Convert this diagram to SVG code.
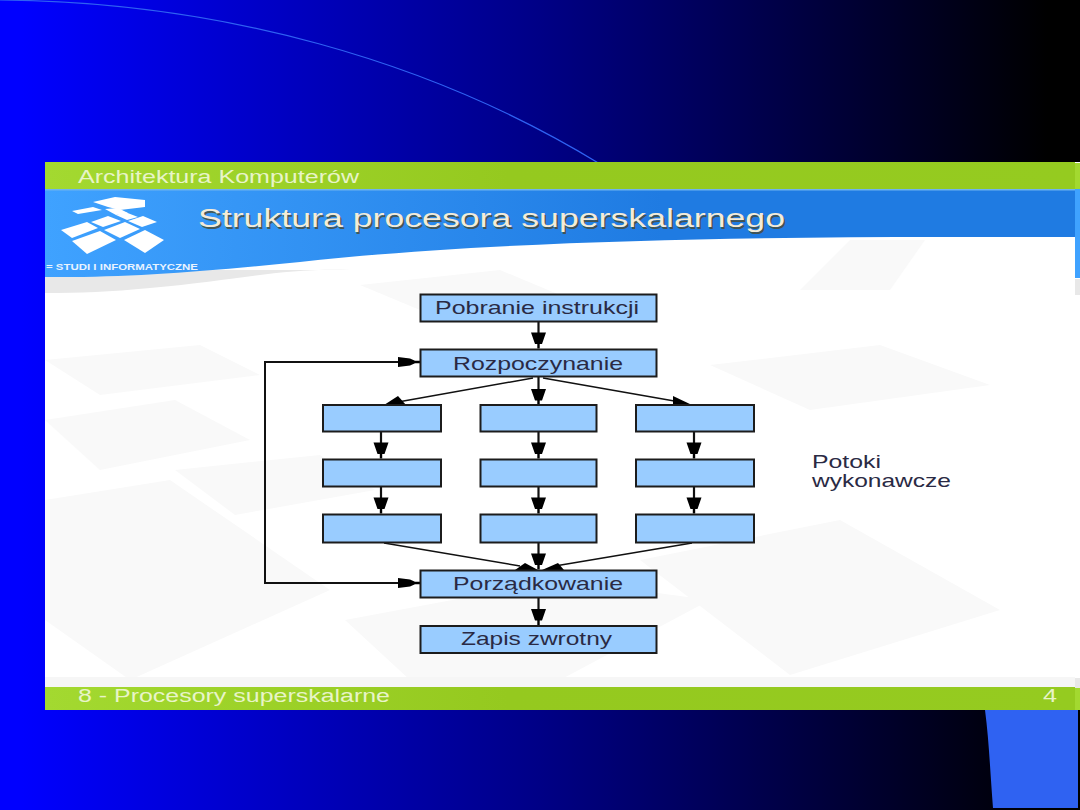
<svg xmlns="http://www.w3.org/2000/svg" width="1080" height="810" viewBox="0 0 1080 810">
<style>
text{font-family:"Liberation Sans",Arial,sans-serif}
.box{fill:#99ccff;stroke:#1c1c1c;stroke-width:2}
.lbl{font-size:18.500px;fill:#2a2a44}
.cap{font-size:18px;fill:#e8f4c8}
.link{fill:none;stroke:#111;stroke-width:2.200}
.loop{fill:none;stroke:#111;stroke-width:2}
.thin{fill:none;stroke:#111;stroke-width:1.500}
.head{fill:#000}
.wm{fill:#f9f9f9}
.logo{fill:#fff}
</style>
<defs>
<linearGradient id="sky" x1="0" x2="1" y1="0" y2="0">
<stop offset="0.02" stop-color="#0000ff"/><stop offset="0.5" stop-color="#000086"/><stop offset="0.97" stop-color="#000000"/>
</linearGradient>
<linearGradient id="lime" x1="0" x2="1" y1="0" y2="0"><stop offset="0" stop-color="#a3d930"/><stop offset="0.45" stop-color="#95c91f"/><stop offset="1" stop-color="#95cb20"/></linearGradient>
<linearGradient id="band" x1="0" x2="1" y1="0" y2="0"><stop offset="0" stop-color="#3fa2ff"/><stop offset="0.6" stop-color="#1f7be2"/><stop offset="1" stop-color="#1f7be2"/></linearGradient>
<path id="down" class="head" d="M-7.500 0H7.500L3.500 11.500H1.200V16H-1.200V11.500H-3.500Z"/>
<path id="right" class="head" d="M0 -5L12 -3.500L17 -1.200H22V1.200H17L12 3.500L0 5Z"/>
</defs>

<!-- backdrop -->
<rect width="1080" height="810" fill="url(#sky)"/>
<path d="M0 0C220 2 430 60 600 164" fill="none" stroke="#2f62f2" stroke-width="1.200"/>
<path d="M985 710H1078V808H993C990 770 989 740 985 710Z" fill="#2f62f2"/>

<!-- slide -->
<rect x="45" y="162" width="1035" height="548" fill="#fff"/>
<g class="wm">
<path d="M45 360L200 345L260 375L100 395Z"/><path d="M45 420L175 400L250 440L100 470Z"/>
<path d="M175 470L320 455L375 490L235 515Z"/><path d="M45 500L170 480L330 590L130 680L45 620Z"/>
<path d="M360 285L500 270L560 295L420 310Z"/><path d="M710 365L880 345L990 385L810 410Z"/>
<path d="M640 560L840 520L1000 610L790 675Z"/><path d="M850 240L925 240L890 290L800 290Z"/>
<path d="M345 620L560 580L710 600L560 680L410 680Z"/>
</g>
<path d="M45 270H350C280 268 240 280 150 288C110 292 80 293 45 293Z" fill="#e8e8e8"/>
<path d="M45 190H1075V237H940C700 237 470 243 300 262C200 272 120 278 45 277Z" fill="url(#band)"/>
<rect x="45" y="162" width="1030" height="27" fill="url(#lime)"/>
<rect x="45" y="189" width="1030" height="1.500" fill="#6fb4f0"/>
<rect x="45" y="677" width="1030" height="10" fill="#f6f6f6"/>
<rect x="45" y="687" width="1030" height="23" fill="url(#lime)"/>
<rect x="1075" y="163" width="5" height="26" fill="#a3d930"/>
<rect x="1075" y="189" width="5" height="89" fill="#3fa2ff"/>
<rect x="1075" y="279" width="5" height="16" fill="#e8e8e8"/>
<rect x="1075" y="678" width="5" height="10" fill="#e8e8e8"/>
<rect x="1075" y="688" width="5" height="22" fill="#a3d930"/>

<g id="logo" class="logo">
<path d="M72 241L100 231L116 240L87 254Z"/><path d="M124 240L145 230L164 240L145 253Z"/>
<path d="M61 230L87 222L98 228L72 238Z"/><path d="M104 230L125 222L140 229L120 238Z"/>
<path d="M91 222L108 216L121 221L103 227Z"/><path d="M128 221L143 216L157 222L142 227Z"/>
<path d="M116 215L125 212L138 217L127 220Z"/><path d="M72 211L93 207L102 210L78 214Z"/>
<path d="M93 202L115 197L145 200L145 207L120 210L108 207Z"/><path d="M105 209L118 208L128 213L116 215Z"/>
</g>
<text x="46" y="270" font-size="9" font-weight="bold" fill="#e8f3ff" textLength="152" lengthAdjust="spacingAndGlyphs">= STUDI I INFORMATYCZNE</text>

<text class="cap" x="78" y="183" textLength="281" lengthAdjust="spacingAndGlyphs">Architektura Komputerów</text>
<text x="199.500" y="228.500" font-size="26" fill="#4a4a30" opacity=".8" textLength="587" lengthAdjust="spacingAndGlyphs">Struktura procesora superskalarnego</text>
<text x="198" y="227" font-size="26" fill="#f4ecd8" textLength="587" lengthAdjust="spacingAndGlyphs">Struktura procesora superskalarnego</text>
<text class="cap" x="78" y="702" textLength="312" lengthAdjust="spacingAndGlyphs">8 - Procesory superskalarne</text>
<text class="cap" x="1043" y="702" textLength="14" lengthAdjust="spacingAndGlyphs">4</text>

<!-- flow connectors -->
<g id="connectors">
<path class="loop" d="M400 362H265V583H400"/>
<use href="#right" x="398" y="362"/>
<use href="#right" x="398" y="583"/>

<path class="thin" d="M533 378L398 402"/>
<path class="head" d="M384 405L398 396L406 405Z"/>
<path class="thin" d="M543 378L680 402"/>
<path class="head" d="M692 405L673 396L673 405Z"/>
<path class="thin" d="M384 543L520 566"/>
<path class="head" d="M515 570L525 563L538 570Z"/>
<path class="thin" d="M692 543L555 566"/>
<path class="head" d="M542 570L558 563L564 570Z"/>

<path class="link" d="M538.500 322V334"/><use href="#down" x="538.500" y="332.500"/>
<path class="link" d="M538.500 377V391"/><use href="#down" x="538.500" y="389"/>
<path class="link" d="M381 432V444"/><use href="#down" x="381" y="442.500"/>
<path class="link" d="M538.500 432V444"/><use href="#down" x="538.500" y="442.500"/>
<path class="link" d="M694 432V444"/><use href="#down" x="694" y="442.500"/>
<path class="link" d="M381 487V499"/><use href="#down" x="381" y="497.500"/>
<path class="link" d="M538.500 487V499"/><use href="#down" x="538.500" y="497.500"/>
<path class="link" d="M694 487V499"/><use href="#down" x="694" y="497.500"/>
<path class="link" d="M538.500 543V555"/><use href="#down" x="538.500" y="553.500"/>
<path class="link" d="M538.500 598V610"/><use href="#down" x="538.500" y="609"/>
</g>

<g id="fetch"><rect class="box" x="420.500" y="294.500" width="236" height="27"/><text class="lbl" x="435" y="314" textLength="204" lengthAdjust="spacingAndGlyphs">Pobranie instrukcji</text></g>
<g id="dispatch"><rect class="box" x="420.500" y="349.500" width="236" height="27"/><text class="lbl" x="453" y="369.500" textLength="170" lengthAdjust="spacingAndGlyphs">Rozpoczynanie</text></g>
<g id="p1a"><rect class="box" x="323" y="405" width="118" height="26.500"/></g>
<g id="p2a"><rect class="box" x="480.500" y="405" width="116" height="26.500"/></g>
<g id="p3a"><rect class="box" x="636" y="405" width="118" height="26.500"/></g>
<g id="p1b"><rect class="box" x="323" y="459.500" width="118" height="27"/></g>
<g id="p2b"><rect class="box" x="480.500" y="459.500" width="116" height="27"/></g>
<g id="p3b"><rect class="box" x="636" y="459.500" width="118" height="27"/></g>
<g id="p1c"><rect class="box" x="323" y="514.500" width="118" height="28"/></g>
<g id="p2c"><rect class="box" x="480.500" y="514.500" width="116" height="28"/></g>
<g id="p3c"><rect class="box" x="636" y="514.500" width="118" height="28"/></g>
<g id="reorder"><rect class="box" x="420.500" y="570.500" width="236" height="27"/><text class="lbl" x="453" y="589.500" textLength="170" lengthAdjust="spacingAndGlyphs">Porządkowanie</text></g>
<g id="writeback"><rect class="box" x="420.500" y="626" width="236" height="27"/><text class="lbl" x="461" y="645" textLength="151" lengthAdjust="spacingAndGlyphs">Zapis zwrotny</text></g>

<g id="pipelines-label"><text class="lbl" x="812" y="468" textLength="69" lengthAdjust="spacingAndGlyphs">Potoki</text><text class="lbl" x="812" y="487" textLength="139" lengthAdjust="spacingAndGlyphs">wykonawcze</text></g>
</svg>
